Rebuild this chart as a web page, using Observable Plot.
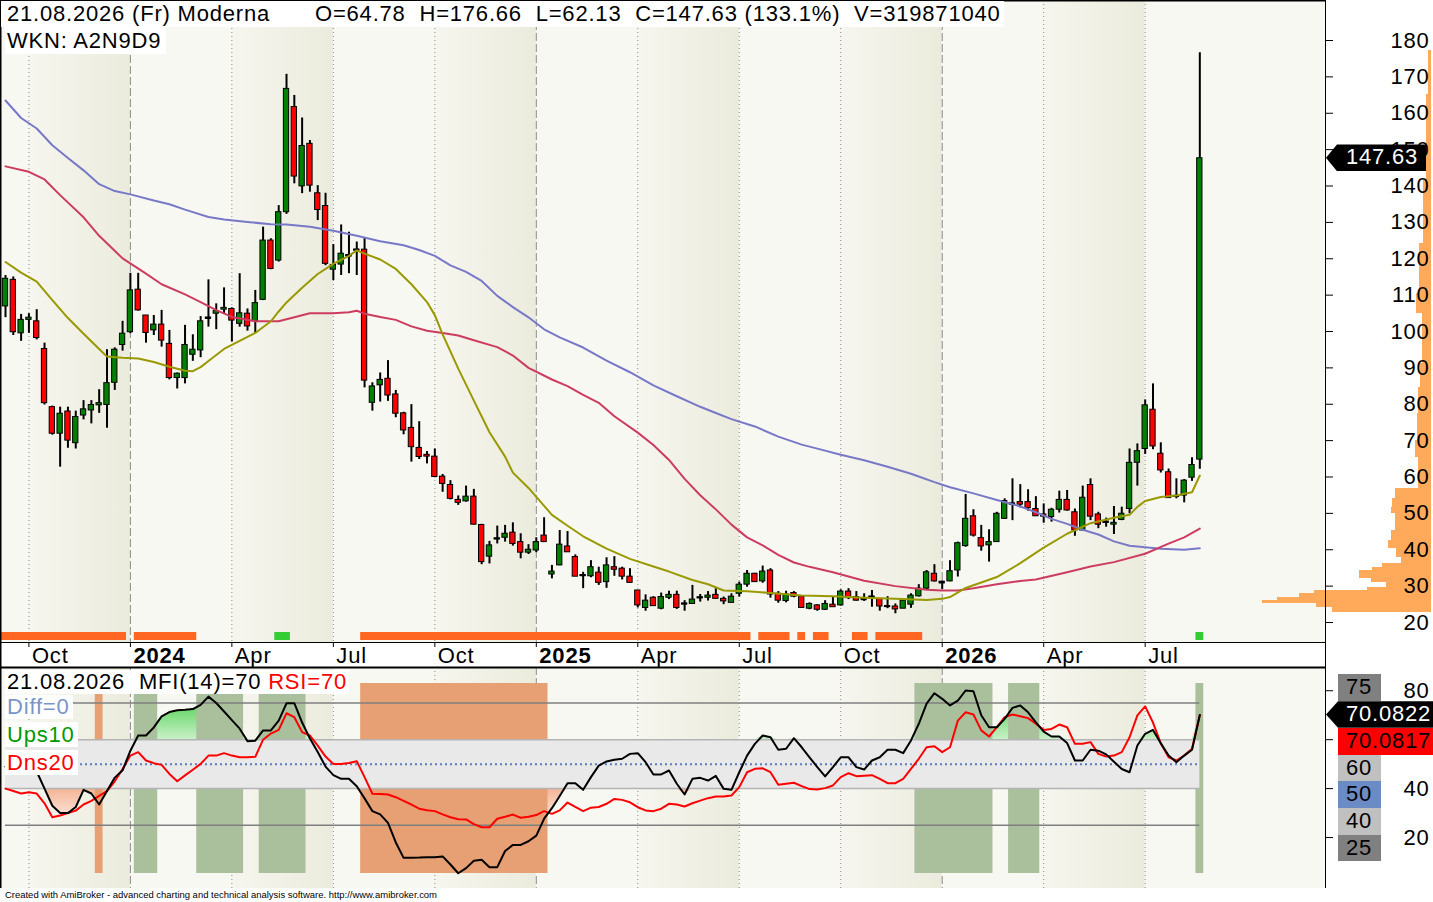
<!DOCTYPE html>
<html><head><meta charset="utf-8">
<script src="https://cdn.jsdelivr.net/npm/d3@7"></script>
<script src="https://cdn.jsdelivr.net/npm/@observablehq/plot@0.6"></script>
<style>
body{margin:0;background:#fff;}
#wrap{position:relative;width:1433px;height:902px;overflow:hidden;background:#fff;font-family:"Liberation Sans",Arial,sans-serif;}
#wrap svg{position:absolute;left:0;}
#wrap svg text{letter-spacing:0.8px;}
.box{position:absolute;background:#fff;font-size:22px;letter-spacing:0.8px;white-space:pre;color:#000;box-sizing:border-box;}
.lab{position:absolute;font-size:22px;letter-spacing:0.8px;white-space:pre;box-sizing:border-box;}
</style></head><body><div id="wrap"></div>
<script>
// ---------- data ----------
const firstBar = Date.UTC(2023, 8, 15); // weekly bars (Fridays)
const openP = [106.9,114.2,99.5,103.2,102.8,95.2,79.2,71.9,78.0,69.3,
76.9,78.3,79.7,79.8,85.9,96.3,99.8,111.5,104.4,100.3,
101.9,96.6,87.2,87.2,93.6,94.8,103.5,104.9,106.0,106.2,
102.1,104.9,102.8,108.7,125.0,119.5,132.8,161.7,139.9,151.6,
138.0,134.5,117.0,118.4,120.6,122.3,122.5,80.4,85.2,87.0,
82.7,77.5,73.5,68.0,66.1,65.6,60.1,57.8,53.7,53.3,
54.6,46.8,38.1,42.9,43.3,44.7,42.1,39.2,39.8,43.9,
33.2,35.7,40.9,38.0,32.8,32.7,33.7,31.1,35.2,34.8,
32.6,28.8,24.0,26.8,23.8,26.8,27.6,25.0,25.1,26.7,
26.8,27.6,26.5,25.4,27.9,30.4,33.4,31.3,34.3,27.9,
25.9,28.1,27.1,23.8,24.7,23.5,24.9,24.7,28.5,27.0,
26.6,26.9,26.5,24.3,24.4,23.8,24.9,27.2,29.3,33.4,
31.2,31.3,34.3,41.0,49.2,43.2,41.2,42.1,48.5,52.4,
53.1,53.1,51.2,49.7,49.0,51.0,53.7,50.3,45.3,57.8,
49.7,47.4,46.9,48.2,51.2,63.9,67.7,78.5,66.4,61.3,
54.5,54.9,59.8,64.78];
const highP = [115.4,115.0,104.7,104.9,106.0,96.8,79.5,79.2,79.2,78.1,
81.0,81.0,84.0,95.0,95.5,102.8,116.0,116.0,104.4,104.4,
105.8,100.3,88.6,101.7,99.1,104.1,114.2,107.6,112.0,106.5,
115.9,106.2,111.3,128.7,125.5,134.6,170.7,164.9,158.7,152.5,
140.1,138.0,123.9,129.3,127.3,124.6,125.8,85.9,88.6,92.0,
83.8,77.8,79.9,75.2,67.0,67.7,60.7,59.0,54.8,57.5,
56.6,47.0,42.3,46.5,46.7,47.4,44.4,41.4,43.3,48.8,
35.7,45.3,45.0,38.6,33.8,37.0,35.2,37.8,38.1,35.2,
34.8,28.8,27.6,27.1,28.1,28.6,28.6,26.0,30.2,27.7,
28.5,29.3,27.0,27.9,31.1,34.3,33.5,35.5,34.8,28.5,
28.6,28.5,27.1,25.4,24.9,26.0,27.0,29.0,29.3,28.5,
27.9,28.8,26.6,27.1,25.1,26.0,27.9,30.4,34.3,35.9,
31.4,37.0,42.1,55.2,51.0,46.7,45.5,50.3,54.0,59.5,
57.9,56.5,54.6,52.6,51.4,56.1,56.3,51.2,57.5,59.5,
50.3,48.7,51.9,51.7,67.7,69.1,81.2,85.6,69.4,62.2,
59.5,59.3,65.3,176.66];
const lowP = [103.8,98.9,97.3,99.5,97.7,79.8,71.5,62.7,67.9,67.7,
75.7,74.6,77.5,73.4,83.8,94.6,99.4,105.6,96.8,98.9,
95.7,86.7,84.2,85.6,91.8,92.8,101.2,100.5,104.9,97.1,
101.2,100.1,99.5,108.5,117.0,119.1,132.2,140.6,137.9,138.3,
130.5,118.1,114.0,115.4,115.9,115.4,84.5,78.1,80.6,80.8,
76.3,71.6,64.1,64.8,63.6,59.8,55.8,53.7,52.2,53.1,
46.8,35.9,36.1,41.6,42.1,41.0,37.5,38.7,39.2,42.0,
32.0,35.6,39.3,32.6,29.3,32.3,30.2,29.4,32.7,31.7,
30.9,24.0,23.1,24.5,23.5,26.3,23.6,23.1,25.0,25.6,
25.9,26.5,24.9,25.4,27.0,29.7,31.0,30.8,26.7,25.3,
25.4,26.8,24.0,23.5,23.1,23.3,24.2,24.5,26.3,25.9,
25.8,24.2,23.1,23.8,22.4,23.8,23.9,27.0,28.8,31.1,
29.1,31.2,32.5,40.7,43.5,39.6,36.6,42.0,48.4,48.0,
51.5,50.6,49.2,47.3,47.6,50.1,50.6,43.7,45.1,48.0,
45.8,46.2,44.2,48.0,49.9,57.5,66.2,67.5,61.1,54.2,
54.0,52.9,58.8,62.13];
const closeP = [114.5,99.8,103.2,103.8,98.2,80.3,71.9,77.4,70.0,76.5,
78.6,79.8,80.3,85.8,95.0,99.4,111.3,105.8,99.6,101.9,
97.5,87.2,88.4,96.3,95.0,102.8,103.8,105.6,106.5,103.0,
105.0,101.4,107.8,125.0,117.2,132.8,166.7,142.6,151.0,140.1,
133.4,118.6,118.3,121.4,121.0,122.5,86.5,84.9,86.7,82.4,
77.4,72.8,68.2,65.5,65.6,60.0,58.1,54.0,52.9,54.6,
46.9,36.6,41.2,43.1,44.4,41.6,39.2,40.0,42.1,42.1,
34.0,41.4,39.3,32.6,33.0,35.2,30.9,35.7,34.5,32.6,
30.9,24.7,26.0,24.5,27.0,27.6,24.0,25.2,26.3,26.9,
27.4,26.5,25.8,27.1,30.4,33.4,31.1,34.0,27.7,26.0,
27.7,27.1,24.0,25.1,23.5,25.1,24.2,28.5,26.7,26.0,
26.4,27.1,24.4,24.5,23.6,26.0,27.4,29.3,33.8,31.3,
31.0,34.1,41.8,48.5,43.9,40.9,42.1,49.9,53.4,52.7,
52.4,51.4,49.2,49.1,51.0,53.7,50.8,45.3,54.3,49.1,
46.9,47.7,47.4,49.9,63.9,67.1,79.7,68.4,61.8,54.2,
54.8,59.0,63.3,147.63];

// moving averages (bar index, value)
const olBar = [0,2,4,6,8,10,12,13,15,17,19,21,23,24,25,26,28,30,32,34,35,36,38,40,42,44,45,46,48,50,52,54,55,56,58,60,62,64,65,67,70,72,74,77,80,83,85,88,90,92,95,98,102,106,110,114,118,120,121,123,125,127,130,133,136,139,142,144,145,146,148,150,152,153];
const olVal = [119.1,116.2,113.7,108.6,103.7,99.4,95.2,93.1,92.8,92.6,91.6,90.3,89.2,89.1,90.2,91.9,95.2,97.4,99.6,102.8,105.5,108.0,112.0,115.8,118.6,120.8,122.3,121.4,119.8,117.2,113.0,108.1,104.5,99.2,89.8,81.0,72.3,65.6,61.2,57.0,49.6,46.6,43.7,40.3,37.5,35.4,34.0,31.7,30.5,28.8,28.6,28.1,27.4,27.2,26.8,26.5,26.2,26.5,27.0,29.5,31.0,32.5,36.3,40.6,44.4,47.3,48.8,49.6,51.8,53.4,54.5,54.9,55.8,60.4];
const crBar = [0,3,5,7,10,12,15,18,20,23,25,27,29,32,35,37,39,42,44,45,46,48,50,52,54,56,58,60,63,65,67,70,72,74,76,78,81,83,85,87,89,91,93,95,97,99,101,103,106,110,114,118,120,122,124,127,130,132,136,139,142,146,149,151,153];
const crVal = [145.4,143.9,141.8,137.5,131.4,126.3,120.1,115.9,113.0,110.2,108.1,105.9,104.0,102.8,102.8,103.9,105.0,105.0,105.3,105.7,104.9,104.0,103.2,101.4,100.2,99.6,98.9,97.6,95.7,93.4,90.0,86.8,85.0,82.6,80.4,76.7,72.2,68.8,64.7,59.5,55.0,51.1,46.9,43.4,41.2,38.6,36.5,35.3,33.8,31.5,30.0,29.0,28.8,28.8,29.4,30.5,31.4,31.8,33.8,35.4,36.6,38.9,41.7,43.4,45.8];
const blBar = [0,2,4,6,8,10,12,14,16,19,21,23,26,28,31,34,36,39,42,45,48,51,53,55,57,59,61,63,65,67,69,71,74,77,80,83,86,89,91,93,96,99,102,104,107,110,113,116,119,121,124,127,130,132,134,136,138,140,142,144,146,148,151,153];
const blVal = [163.5,158.7,155.8,151.2,147.7,144.3,140.5,138.6,137.7,136.0,135.0,133.5,131.5,130.8,130.1,129.5,129.4,128.8,127.7,126.3,124.8,123.7,122.4,120.8,118.2,116.4,113.9,109.8,106.7,103.9,100.6,98.4,95.6,92.0,88.8,85.2,82.2,79.3,77.6,75.9,73.9,71.1,68.9,67.8,66.1,64.6,62.8,60.9,58.6,57.2,55.5,53.7,51.9,50.3,48.5,47.1,45.5,44.2,42.3,41.1,40.7,40.3,40.0,40.4];

// volume-by-price profile
const profLo = [165.2,141.5,124.2,110.4,104.9,91.2,84.6,77.5,70.0,65.4,56.8,54.1,51.6,50.0,45.3,42.5,40.3,37.9,36.2,35.1,34.3,32.1,31.0,29.6,28.8,28.0,26.9,26.0,25.2,24.1,22.7];
const profHi = [177.3,165.2,141.5,124.2,110.4,104.9,91.2,84.6,77.5,70.0,65.4,56.8,54.1,51.6,50.0,45.3,42.5,40.3,37.9,36.2,35.1,34.3,32.1,31.0,29.6,28.8,28.0,26.9,26.0,25.2,24.1];
const profVol = [3,5,8,12,15,9,11,13,14,16,13,36,39,40,36,40,43,35,30,49,59,72,60,45,64,117,132,154,169,115,99];

// signal strip under price (bar ranges)
const stripOrange = [[0,15],[17,24],[46,95],[97,100],[102,102],[104,105],[109,110],[112,117]];
const stripGreen = [[35,36],[153,153]];

// oscillators
const mfi = [49,50,50,49,47,40,33,30,30,32.5,
39.5,38,33.5,39,44.5,47.5,55.5,61.7,61.7,65,
69.5,71.3,72,72.2,72.5,74.2,77.6,75,71.5,68,
64.5,59.4,59.6,63.8,63.8,67.8,74.9,74.9,67,60.5,
55,49,45.5,44,44,41,36,30.8,29.5,26,
18,11.7,11.7,11.8,12,12,12.3,9,5.4,7.5,
10.5,10.9,7.9,7.9,14.5,17,17,18.5,20.8,27.7,
32,37,42.2,42.2,39.5,44.7,49.4,51.1,51.8,52.2,
54.2,54.5,50.8,45.8,45.8,47.4,42,37.6,44,44.4,
43.3,45.2,39.9,39.5,46.7,53.5,58.3,61.7,61,55.9,
56.3,60.6,56.9,52.8,48.8,45,48.8,52.8,52.8,48.8,
47.8,51.5,52.8,55.9,55.9,54.5,59.7,66.5,74.7,79,
76.7,74,76,80.1,79.8,70,65.1,65.1,68.5,73,
74,71.2,67.1,63.3,61.3,61.3,58.6,51.5,51.5,55.9,
55.5,54,51,48,46.7,57.6,62.4,64,58.5,53.5,
50.8,53.5,55.9,70.0822];
const rsi = [40,39,38,38.5,38,34,28.3,29,30,31,
33.5,35,37,39,43,48,53.5,54.9,51.5,50.4,
49.7,46,43,45.4,47.7,50.1,53.5,53.5,54.5,53.5,
52.8,52.8,53,60,62.5,64,70.8,69.2,63.1,61.7,
57.6,53.1,50.1,50.1,50.5,51.2,44.7,37.9,37.8,37.6,
36.5,35,33.5,31.8,31.2,30.8,29.5,28.3,27.5,27.4,
25.5,24.2,24.2,27.7,28.5,29.4,28.1,28.5,29.2,30.8,
29.7,31.1,34.3,32.5,30.8,32.2,32.5,33.8,35.8,35.4,
34.4,32.4,31.1,30.8,31.8,33.8,33.5,32.7,34,35.1,
36.1,36.8,36.8,37.2,40.6,46.7,48.1,48.3,46.7,41.6,
42,42.4,41,39.8,39.6,40.2,41.3,44.7,46.3,45.1,
45.3,45.5,44,42.2,42.2,44,48.1,52.2,56.9,57.3,
54.9,56.9,67.8,71.2,70.3,63.8,61.3,65.1,69.2,70.3,
69.6,68.8,66.5,64,64.4,66.2,65.1,58.3,58.3,59,
54.2,53.1,53.5,54.9,61,69.9,73.6,67,58.5,52.8,
51.5,53.5,56.3,70.0817];
const colOrange = [[12,12],[46,69]];
const colGreen = [[17,19],[25,30],[33,38],[117,126],[129,132],[153,153]];
const oscLevels = [75, 60, 50, 40, 25];
const priceTicks = d3.range(20, 181, 10);
const oscTicks = [20, 40, 60, 80];
const oscTickLabels = [20, 40, 80];

// ---------- derived ----------
const n = openP.length;
const dates = d3.range(n).map(i => d3.utcWeek.offset(new Date(firstBar), i));
const qStarts = [];
for (let i = 1; i < n; i++) {
  if (Math.floor(dates[i-1].getUTCMonth()/3) !== Math.floor(dates[i].getUTCMonth()/3)) qStarts.push(i);
}
const mName = {3:"Apr", 6:"Jul", 9:"Oct"};
const qLabel = i => dates[i].getUTCMonth() === 0 ? String(dates[i].getUTCFullYear()) : mName[dates[i].getUTCMonth()];
const yearTicks = qStarts.filter(i => dates[i].getUTCMonth() === 0);
const monthTicks = qStarts.filter(i => dates[i].getUTCMonth() !== 0);

const W = 1433, axisGap = 108;
const xDomain = [-0.64, 169.1];
const yDomain = [14.5, 191.0];
const bDomain = [-0.82, 89.5];
const pxPerBar = (W - axisGap) / (xDomain[1] - xDomain[0]);
const profRight = xDomain[0] + 1431 / pxPerBar;

const bands = qStarts.map((s, k) => ({x1: s, x2: k + 1 < qStarts.length ? qStarts[k+1] : xDomain[1], m: dates[s].getUTCMonth()}))
  .filter(d => d.m === 3 || d.m === 9);

const bars = openP.map((o, i) => ({i, o, h: highP[i], l: lowP[i], c: closeP[i]}));
const dojis = bars.filter(d => Math.abs(d.o - d.c) < 0.5);
const toLine = (bs, vs) => bs.map((b, k) => ({i: b, v: vs[k]}));
const prof = profVol.map((v, k) => ({lo: profLo[k], hi: profHi[k], v}));
const osc = mfi.map((v, i) => ({i, mfi: v, rsi: rsi[i]}));

const font = '"Liberation Sans", Arial, sans-serif';
const bandFill = "#f8f8f3";

const priceChart = Plot.plot({
  width: W, height: 667, marginLeft: 0, marginRight: axisGap, marginTop: 0, marginBottom: 25,
  x: {domain: xDomain, axis: null},
  y: {domain: yDomain},
  color: {type: "identity"},
  style: {fontFamily: font, fontSize: "22px", background: "#fff", overflow: "visible"},
  marks: [
    Plot.rect([0], {x1: xDomain[0], x2: xDomain[1], fill: bandFill}),
    Plot.rect(bands, {x1: "x1", x2: "x2", fill: "url(#bandG)"}),
    Plot.ruleX(monthTicks, {stroke: "#8a8a8a", strokeDasharray: "1,3"}),
    Plot.ruleX(yearTicks, {stroke: "#8a8a8a", strokeDasharray: "8,3"}),
    Plot.rect(stripOrange, {x1: d => d[0] - 0.5, x2: d => d[1] + 0.5, y1: yDomain[0], y2: yDomain[0], insetTop: -10, insetBottom: 2, fill: "#ff6622"}),
    Plot.rect(stripGreen, {x1: d => d[0] - 0.5, x2: d => d[1] + 0.5, y1: yDomain[0], y2: yDomain[0], insetTop: -10, insetBottom: 2, fill: "#33cc33"}),
    Plot.ruleX(bars, {x: "i", y1: "l", y2: "h", stroke: "#000", strokeWidth: 2}),
    Plot.rect(bars, {x1: d => d.i - 0.34, x2: d => d.i + 0.34, y1: "o", y2: "c", fill: d => d.c >= d.o ? "#008000" : "#ff0000", stroke: "#000", strokeWidth: 1}),
    Plot.ruleY(dojis, {y: "c", x1: d => d.i - 0.38, x2: d => d.i + 0.38, stroke: "#000", strokeWidth: 2}),
    Plot.line(toLine(blBar, blVal), {x: "i", y: "v", stroke: "#7878c8", strokeWidth: 2}),
    Plot.line(toLine(crBar, crVal), {x: "i", y: "v", stroke: "#cd3c5f", strokeWidth: 2}),
    Plot.line(toLine(olBar, olVal), {x: "i", y: "v", stroke: "#999900", strokeWidth: 2}),
    Plot.rect(prof, {x1: d => profRight - d.v / pxPerBar, x2: profRight, y1: "lo", y2: "hi", fill: "#ffaa5a", shapeRendering: "crispEdges"}),
    Plot.ruleX([xDomain[1]], {stroke: "#000", insetBottom: -25}),
    Plot.ruleX([xDomain[0]], {stroke: "#000", strokeWidth: 2, insetBottom: -25}),
    Plot.ruleY([yDomain[1]], {stroke: "#000", strokeWidth: 2}),
    Plot.ruleY([yDomain[0]], {stroke: "#000"}),
    Plot.axisY(priceTicks, {anchor: "right", tickSize: 7, fill: "none", label: null}),
    Plot.text(priceTicks, {y: d => d, text: d => String(d), frameAnchor: "right", textAnchor: "end", dx: 104, fill: "#000"}),
    Plot.axisX(qStarts, {anchor: "bottom", tickSize: 5, fill: "none", label: null}),
    Plot.text(monthTicks, {x: d => d, text: qLabel, frameAnchor: "bottom", textAnchor: "start", lineAnchor: "bottom", dx: 3, dy: 20.5, fill: "#000"}),
    Plot.text(yearTicks, {x: d => d, text: qLabel, frameAnchor: "bottom", textAnchor: "start", lineAnchor: "bottom", dx: 3, dy: 20.5, fill: "#000", fontWeight: "bold"})
  ]
});

const lowerChart = Plot.plot({
  width: W, height: 221, marginLeft: 0, marginRight: axisGap, marginTop: 0, marginBottom: 0,
  x: {domain: xDomain, axis: null},
  y: {domain: bDomain},
  color: {type: "identity"},
  style: {fontFamily: font, fontSize: "22px", background: "#fff", overflow: "visible"},
  marks: [
    Plot.rect([0], {x1: xDomain[0], x2: xDomain[1], fill: bandFill}),
    Plot.rect(bands, {x1: "x1", x2: "x2", fill: "url(#bandG)"}),
    Plot.ruleX(monthTicks, {stroke: "#8a8a8a", strokeDasharray: "1,3"}),
    Plot.ruleX(yearTicks, {stroke: "#8a8a8a", strokeDasharray: "8,3"}),
    Plot.areaY(osc, {x: "i", y1: 60, y2: d => Math.max(d.mfi, 60), fill: "url(#upG)"}),
    Plot.areaY(osc, {x: "i", y1: d => Math.min(d.mfi, 40), y2: 40, fill: "url(#dnG)"}),
    Plot.rect(colOrange, {x1: d => d[0] - 0.5, x2: d => d[1] + 0.5, insetTop: 16, insetBottom: 15, fill: "#e6a074"}),
    Plot.rect(colGreen, {x1: d => d[0] - 0.5, x2: d => d[1] + 0.5, insetTop: 16, insetBottom: 15, fill: "#aac09c"}),
    Plot.rect([0], {x1: 0, x2: n - 1, y1: 40, y2: 60, fill: "#e9e9e9"}),
    Plot.ruleY([40, 60], {x1: 0, x2: n - 1, stroke: "#b4b4b4", strokeWidth: 1.5}),
    Plot.ruleY([25, 75], {x1: 0, x2: n - 1, stroke: "#7f7f7f", strokeWidth: 1.5}),
    Plot.ruleY([50], {x1: 0, x2: n - 1, stroke: "#5a7dbd", strokeWidth: 2, strokeDasharray: "2,3"}),
    Plot.line(osc, {x: "i", y: "rsi", stroke: "#ff0000", strokeWidth: 2}),
    Plot.line(osc, {x: "i", y: "mfi", stroke: "#000", strokeWidth: 2}),
    Plot.ruleX([xDomain[1]], {stroke: "#000"}),
    Plot.ruleX([xDomain[0]], {stroke: "#000", strokeWidth: 2}),
    Plot.ruleY([bDomain[1]], {stroke: "#000", strokeWidth: 2}),
    Plot.axisY(oscTicks, {anchor: "right", tickSize: 7, fill: "none", label: null}),
    Plot.text(oscTickLabels, {y: d => d, text: d => String(d), frameAnchor: "right", textAnchor: "end", dx: 104, fill: "#000"})
  ]
});

const wrap = document.getElementById("wrap");
priceChart.style.top = "0px";
lowerChart.style.top = "667px";
wrap.appendChild(priceChart);
wrap.appendChild(lowerChart);

// gradients
const defs = d3.select(priceChart).insert("defs", ":first-child");
function grad(id, vertical, stops) {
  const g = defs.append("linearGradient").attr("id", id)
    .attr("x1", 0).attr("y1", 0).attr("x2", vertical ? 0 : 1).attr("y2", vertical ? 1 : 0);
  stops.forEach(([o, c]) => g.append("stop").attr("offset", o).attr("stop-color", c));
}
grad("bandG", false, [["0%", "#f6f6ef"], ["100%", "#ebebdd"]]);
grad("upG", true, [["0%", "#36c936"], ["100%", "#c8f0c8"]]);
grad("dnG", true, [["0%", "#f4b596"], ["35%", "#fbe4d8"], ["100%", "#ffffff"]]);

// ---------- overlays ----------
function div(cls, css, text) {
  const d = document.createElement("div");
  d.className = cls;
  Object.assign(d.style, css);
  if (text !== undefined) d.textContent = text;
  wrap.appendChild(d);
  return d;
}
const title = div("box", {left: "1px", top: "1px", width: "1003px", height: "26px"});
const t1 = document.createElement("span"); t1.textContent = "21.08.2026 (Fr) Moderna";
Object.assign(t1.style, {position: "absolute", left: "6px", top: "-1px", lineHeight: "27px"});
const t2 = document.createElement("span"); t2.textContent = "O=64.78  H=176.66  L=62.13  C=147.63 (133.1%)  V=319871040";
Object.assign(t2.style, {position: "absolute", left: "314px", top: "-1px", lineHeight: "27px"});
title.appendChild(t1); title.appendChild(t2);
div("box", {left: "5px", top: "27px", width: "161px", height: "27px", lineHeight: "27px", paddingLeft: "2px"}, "WKN: A2N9D9");

const hdr = div("box", {left: "5px", top: "670px", height: "24px", lineHeight: "24px", paddingLeft: "2px", paddingRight: "2px"});
hdr.innerHTML = '21.08.2026  MFI(14)=70 <span style="color:#ff0000">RSI=70</span>';
div("box", {left: "5px", top: "695px", height: "24px", lineHeight: "24px", paddingLeft: "2px", paddingRight: "3px", color: "#7a95c8"}, "Diff=0");
div("box", {left: "5px", top: "722px", height: "25px", lineHeight: "25px", paddingLeft: "2px", paddingRight: "3px", color: "#009900"}, "Ups10");
div("box", {left: "5px", top: "750px", height: "25px", lineHeight: "25px", paddingLeft: "2px", paddingRight: "3px", color: "#ff0000"}, "Dns20");

// last price label
const yP = priceChart.scale("y").apply(closeP[n - 1]);
div("lab", {left: "1326px", top: (yP - 13.3) + "px", width: "100px", height: "26.7px", lineHeight: "26.7px",
  background: "#000", color: "#fff", paddingLeft: "20px",
  clipPath: "polygon(0 50%, 11px 0, 100% 0, 100% 100%, 11px 100%)"}, closeP[n - 1].toFixed(2));

// oscillator value labels (stacked around the last MFI value)
const yb = v => lowerChart.scale("y").apply(v) + 667;
const oscLab = [
  {v: oscLevels[0], text: String(oscLevels[0]), bg: "#808080", fg: "#000"},
  {v: mfi[n - 1], text: mfi[n - 1].toFixed(4), bg: "#000", fg: "#fff", arrow: true},
  {v: rsi[n - 1], text: rsi[n - 1].toFixed(4), bg: "#ff0000", fg: "#000"},
  {v: oscLevels[1], text: String(oscLevels[1]), bg: "#c0c0c0", fg: "#000"},
  {v: oscLevels[2], text: String(oscLevels[2]), bg: "#6a8bc3", fg: "#000"},
  {v: oscLevels[3], text: String(oscLevels[3]), bg: "#c0c0c0", fg: "#000"},
  {v: oscLevels[4], text: String(oscLevels[4]), bg: "#808080", fg: "#000"}
];
const H = 26.7, anchor = 1;
const cy = oscLab.map(d => yb(d.v));
for (let k = anchor + 1; k < oscLab.length; k++) cy[k] = Math.max(cy[k], cy[k - 1] + H);
for (let k = anchor - 1; k >= 0; k--) cy[k] = Math.min(cy[k], cy[k + 1] - H);
oscLab.forEach((d, k) => {
  const css = {top: (cy[k] - H / 2) + "px", height: H + "px", lineHeight: H + "px", background: d.bg, color: d.fg};
  if (d.arrow) Object.assign(css, {left: "1326px", paddingLeft: "20px", paddingRight: "2px", clipPath: "polygon(0 50%, 12px 0, 100% 0, 100% 100%, 12px 100%)"});
  else Object.assign(css, {left: "1338px", paddingLeft: "8px", paddingRight: d.text.length > 2 ? "4px" : "9px"});
  div("lab", css, d.text);
});

// footer
const foot = div("box", {left: "5px", top: "889px", fontSize: "9px", letterSpacing: "0px", lineHeight: "12px", transformOrigin: "0 0", background: "transparent"},
  "Created with AmiBroker - advanced charting and technical analysis software. http://www.amibroker.com");
const fw = foot.getBoundingClientRect().width;
if (fw > 0) foot.style.transform = `scaleX(${432 / fw})`;
</script></body></html>
